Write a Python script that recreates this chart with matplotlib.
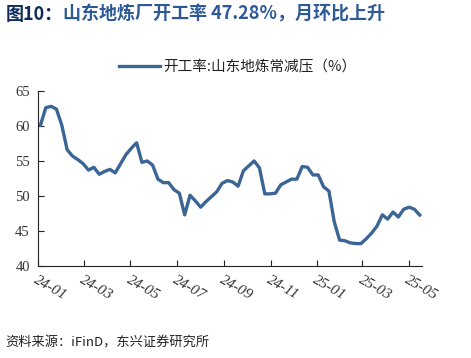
import pandas as pd
import numpy as np
import matplotlib.pyplot as plt
import matplotlib.dates as mdates

# ===============================================================
# DATA — weekly Shandong independent refinery run rate (%)
# ===============================================================

start_date = "2024-01-04"
run_rate = [
    60.1, 62.6, 62.8, 62.4, 60.1, 56.6, 55.7, 55.2, 54.6, 53.7,
    54.1, 53.1, 53.5, 53.8, 53.3, 54.6, 55.9, 56.8, 57.6, 54.8,
    55.0, 54.4, 52.4, 51.9, 51.9, 50.9, 50.4, 47.3, 50.1, 49.3,
    48.4, 49.2, 49.9, 50.6, 51.8, 52.2, 52.0, 51.4, 53.6, 54.3,
    55.0, 54.0, 50.3, 50.3, 50.4, 51.6, 52.0, 52.4, 52.4, 54.2,
    54.1, 53.0, 53.0, 51.3, 50.7, 46.3, 43.7, 43.6, 43.3, 43.2,
    43.2, 43.9, 44.7, 45.7, 47.3, 46.7, 47.7, 47.0, 48.1, 48.4,
    48.1, 47.28,
]
dates = pd.date_range(start_date, periods=len(run_rate), freq="7D")

title_head = "图10："
title_body = "山东地炼厂开工率 47.28%，月环比上升"
series_name = "开工率:山东地炼常减压（%）"
source = "资料来源：iFinD，东兴证券研究所"

plt.rcParams['font.family'] = ['Noto Sans CJK SC', 'DejaVu Sans']

# ===============================================================
# PLOT
# ===============================================================

fig = plt.figure(figsize=(4.71, 3.58), dpi=100)
ax = fig.add_axes([0.081, 0.257, 0.815, 0.489])

line_color = "#3a6595"
ax.plot(dates, run_rate, color=line_color, linewidth=2.4,
        solid_joinstyle="round", label=series_name)

ax.set_ylim(40, 65)
ax.set_yticks([40, 45, 50, 55, 60, 65])
ax.set_xlim(pd.Timestamp("2024-01-01"), pd.Timestamp("2025-05-18"))
ax.xaxis.set_major_locator(mdates.MonthLocator(bymonth=[1, 3, 5, 7, 9, 11]))
ax.xaxis.set_major_formatter(mdates.DateFormatter("%y-%m"))

for side in ["top", "right"]:
    ax.spines[side].set_visible(False)
for side in ["left", "bottom"]:
    ax.spines[side].set_color("#222222")
    ax.spines[side].set_linewidth(0.8)

ax.tick_params(axis="both", direction="in", length=4, width=0.8,
               color="#222222")
ax.tick_params(axis="y", labelsize=10.5, labelcolor="#333333", pad=6)
ax.tick_params(axis="x", labelsize=11, labelcolor="#333333", pad=5)
for lab in ax.get_yticklabels():
    lab.set_family("Liberation Serif")
for lab in ax.get_xticklabels():
    lab.set_family("Liberation Serif")
    lab.set_style("italic")
    lab.set_rotation(-30)
    lab.set_ha("left")
    lab.set_va("top")
    lab.set_rotation_mode("anchor")

leg = ax.legend(loc="lower center", bbox_to_anchor=(0.52, 1.02), frameon=False,
                fontsize=10.5, handlelength=2.8, handletextpad=0.2)
for t in leg.get_texts():
    t.set_color("#222222")

t1 = fig.text(0.012, 0.96, title_head, fontsize=13, fontweight="bold",
              color="#102c5c", ha="left", va="center")
ax.annotate(title_body, xy=(1, 0.5), xycoords=t1, fontsize=13,
            fontweight="bold", color="#2d5a96", ha="left", va="center",
            annotation_clip=False)
fig.text(0.012, 0.042, source, fontsize=9.5, style="italic",
         color="#222222", ha="left", va="center")

plt.savefig("out.png", dpi=100)
plt.close()
